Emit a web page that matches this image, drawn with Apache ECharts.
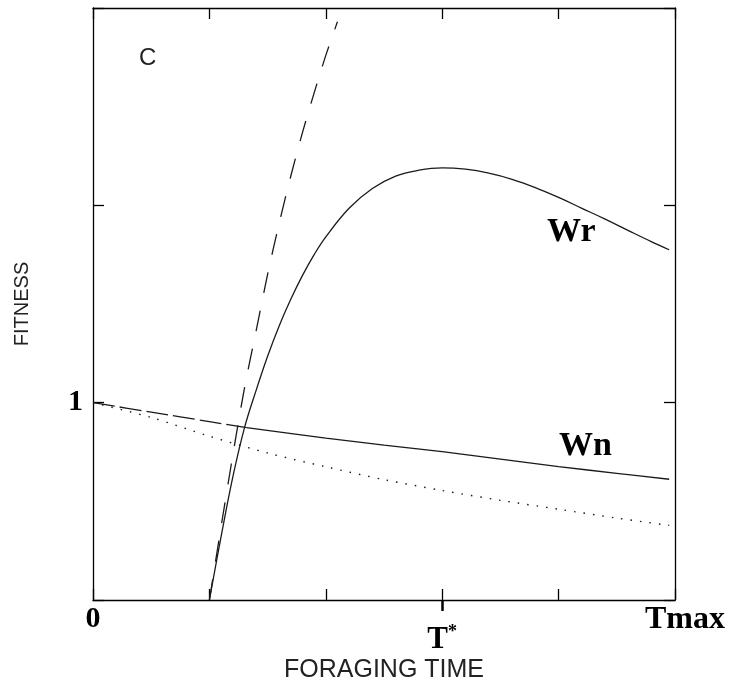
<!DOCTYPE html>
<html>
<head>
<meta charset="utf-8">
<script src="https://cdn.jsdelivr.net/npm/echarts@6/dist/echarts.min.js"></script>
<style>
html,body{margin:0;padding:0;background:#fff;}
#c{width:734px;height:694px;}
</style>
</head>
<body>
<div id="c"></div>
<script>
// ---- data ----
const xTickValues = [0, 1, 2, 3, 4, 5];
const xTickLabels = ['0', '', '', 'T*', '', 'Tmax'];
const yTickValues = [0, 1, 2, 3];
const yTickLabels = ['', '1', '', ''];

// Wr (solid curve)
const wrX = [1.0, 1.1, 1.2, 1.3, 1.4, 1.5, 1.6, 1.7, 1.8, 1.9, 2.0, 2.2, 2.4, 2.6, 2.8, 3.0, 3.2, 3.4, 3.6, 3.8, 4.0, 4.2, 4.4, 4.6, 4.8, 4.95];
const wrY = [0, 0.32, 0.62, 0.87, 1.06, 1.235, 1.39, 1.525, 1.645, 1.75, 1.84, 1.985, 2.085, 2.148, 2.178, 2.19, 2.183, 2.163, 2.132, 2.09, 2.04, 1.985, 1.93, 1.872, 1.815, 1.775];

// dashed rising curve
const dashX = [1.0, 1.1, 1.2, 1.3, 1.4, 1.5, 1.6, 1.7, 1.8, 1.9, 2.0, 2.1];
const dashY = [0, 0.37, 0.73, 1.07, 1.36, 1.65, 1.91, 2.15, 2.37, 2.57, 2.76, 2.93];

// Wn: dashed part then solid part
const wnDashX = [0, 0.5, 1.0, 1.32];
const wnDashY = [1, 0.952, 0.904, 0.873];
const wnX = [1.32, 2.0, 2.5, 3.0, 3.5, 4.0, 4.5, 4.95];
const wnY = [0.873, 0.82, 0.785, 0.752, 0.714, 0.676, 0.642, 0.612];

// dotted curve
const dotX = [0, 0.5, 1.0, 1.5, 2.0, 2.5, 3.0, 3.5, 4.0, 4.5, 4.95];
const dotY = [1, 0.925, 0.83, 0.745, 0.675, 0.61, 0.555, 0.505, 0.46, 0.415, 0.378];

const pairs = (xs, ys) => xs.map((x, i) => [x, ys[i]]);

const chart = echarts.init(document.getElementById('c'));
const lineCol = '#1a1a1a';
const serif = '"Liberation Serif", "DejaVu Serif", serif';
const sans = '"Liberation Sans", Arial, sans-serif';

function xLab(v) {
  const i = xTickValues.indexOf(v);
  const s = i >= 0 ? xTickLabels[i] : '';
  if (!s || s === 'T*') return '';
  if (s === 'Tmax') return '{tm|' + s + '}';
  return '{n|' + s + '}';
}
function xLabT(v) {
  const i = xTickValues.indexOf(v);
  const s = i >= 0 ? xTickLabels[i] : '';
  if (s === 'T*') return '{t|T}{s|*}';
  return '';
}

const option = {
  backgroundColor: '#fff',
  animation: false,
  grid: { left: 93, right: 59, top: 8, bottom: 94, containLabel: false },
  xAxis: [
    {
      type: 'value', min: 0, max: 5, interval: 1, position: 'bottom',
      axisLine: { show: true, onZero: false, lineStyle: { color: '#000', width: 1.3 } },
      axisTick: { show: true, inside: true, length: 11, lineStyle: { color: '#000', width: 1.3 } },
      splitLine: { show: false },
      axisLabel: {
        formatter: xLab, margin: 4,
        rich: {
          n: { fontFamily: serif, fontWeight: 'bold', fontSize: 30, color: '#000' },
          tm: { fontFamily: serif, fontWeight: 'bold', fontSize: 32, color: '#000', padding: [0, 0, 0, 20] }
        }
      },
      name: 'FORAGING TIME', nameLocation: 'middle', nameGap: 58,
      nameTextStyle: { fontFamily: sans, fontSize: 25, color: '#222' }
    },
    {
      type: 'value', min: 0, max: 5, interval: 1, position: 'bottom',
      axisLine: { show: false, onZero: false },
      axisTick: { show: true, inside: false, length: 11, customValues: [3], lineStyle: { color: '#000', width: 2.5 } },
      splitLine: { show: false },
      axisLabel: {
        formatter: xLabT, margin: 23, customValues: [3],
        rich: {
          t: { fontFamily: serif, fontWeight: 'bold', fontSize: 31, color: '#000' },
          s: { fontFamily: serif, fontWeight: 'bold', fontSize: 18, color: '#000', padding: [0, 0, 16, 0] }
        }
      }
    },
    {
      type: 'value', min: 0, max: 5, interval: 1, position: 'top',
      axisLine: { show: true, onZero: false, lineStyle: { color: '#000', width: 1.3 } },
      axisTick: { show: true, inside: true, length: 11, lineStyle: { color: '#000', width: 1.3 } },
      axisLabel: { show: false }, splitLine: { show: false }
    }
  ],
  yAxis: [
    {
      type: 'value', min: 0, max: 3, interval: 1, position: 'left',
      axisLine: { show: true, onZero: false, lineStyle: { color: '#000', width: 1.3 } },
      axisTick: { show: true, inside: true, length: 11, lineStyle: { color: '#000', width: 1.3 } },
      splitLine: { show: false },
      axisLabel: {
        margin: 10,
        formatter: (v) => { const i = yTickValues.indexOf(v); return i >= 0 ? yTickLabels[i] : ''; },
        fontFamily: serif, fontWeight: 'bold', fontSize: 30, color: '#000'
      },
      name: 'FITNESS', nameLocation: 'middle', nameGap: 61, nameRotate: 90,
      nameTextStyle: { fontFamily: sans, fontSize: 20, color: '#222' }
    },
    {
      type: 'value', min: 0, max: 3, interval: 1, position: 'right',
      axisLine: { show: true, onZero: false, lineStyle: { color: '#000', width: 1.3 } },
      axisTick: { show: true, inside: true, length: 11, lineStyle: { color: '#000', width: 1.3 } },
      axisLabel: { show: false }, splitLine: { show: false }
    }
  ],
  series: [
    {
      name: 'Wr', type: 'line', data: pairs(wrX, wrY), smooth: 0.4, symbol: 'none',
      lineStyle: { color: lineCol, width: 1.3 }
    },
    {
      name: 'dashed', type: 'line', data: pairs(dashX, dashY), smooth: 0.3, symbol: 'none',
      lineStyle: { color: lineCol, width: 1.3, type: [21, 18] }
    },
    {
      name: 'Wn-dash', type: 'line', data: pairs(wnDashX, wnDashY), smooth: 0.3, symbol: 'none',
      lineStyle: { color: lineCol, width: 1.3, type: [22, 5] }
    },
    {
      name: 'Wn', type: 'line', data: pairs(wnX, wnY), smooth: 0.3, symbol: 'none',
      lineStyle: { color: lineCol, width: 1.3 }
    },
    {
      name: 'dotted', type: 'line', data: pairs(dotX, dotY), smooth: 0.3, symbol: 'none',
      lineStyle: { color: lineCol, width: 1.4, type: [1.5, 8] }
    }
  ],
  graphic: [
    { type: 'text', left: 139, top: 46, style: { text: 'C', font: '24px ' + sans, fill: '#222' } },
    { type: 'text', left: 547, top: 215, style: { text: 'Wr', font: 'bold 34px ' + serif, fill: '#000' } },
    { type: 'text', left: 559, top: 429, style: { text: 'Wn', font: 'bold 34px ' + serif, fill: '#000' } }
  ]
};
chart.setOption(option);
</script>
</body>
</html>
